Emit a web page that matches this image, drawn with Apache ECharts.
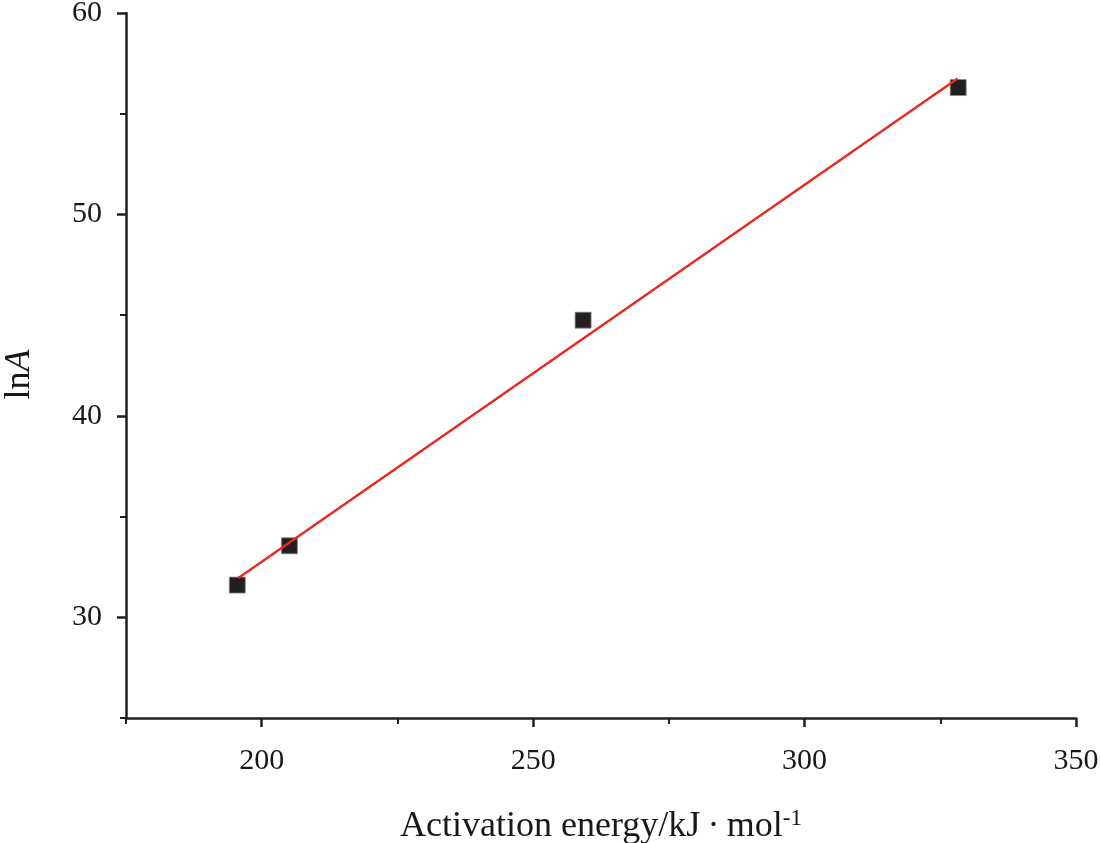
<!DOCTYPE html>
<html>
<head>
<meta charset="utf-8">
<script src="https://cdn.jsdelivr.net/npm/echarts@6/dist/echarts.min.js"></script>
<style>html,body{margin:0;padding:0;background:#fff}#c{width:1100px;height:843px}</style>
</head>
<body>
<div id="c"></div>
<script>
const energy = [195.5, 205.1, 259.2, 328.3];
const lnA = [31.6, 33.55, 44.75, 56.3];
const fitX = [195.7, 328.2];
const fitY = [31.95, 56.75];
const xMajor = [200, 250, 300, 350];
const xMinor = [175, 225, 275, 325];
const yMajor = [30, 40, 50, 60];
const yMinor = [25, 35, 45, 55];

const axisColor = '#231f20';
const font = '"Liberation Serif", "DejaVu Serif", serif';
const xRange = { min: 175, max: 350 };
const yRange = { min: 25, max: 60 };

function mainAxis(range, major, extra) {
  return Object.assign({
    type: 'value', min: range.min, max: range.max,
    axisLine: { onZero: false, lineStyle: { color: axisColor, width: 2.5 } },
    axisTick: { show: true, inside: false, length: 9, customValues: major, lineStyle: { color: axisColor, width: 2.5 } },
    axisLabel: { show: true, customValues: major, fontFamily: font, fontSize: 30, color: '#1a1718' },
    splitLine: { show: false }
  }, extra);
}
function minorAxis(range, minor) {
  return {
    type: 'value', min: range.min, max: range.max,
    axisLine: { show: false, onZero: false },
    axisTick: { show: true, inside: false, length: 6, customValues: minor, lineStyle: { color: axisColor, width: 2 } },
    axisLabel: { show: false },
    splitLine: { show: false }
  };
}

const chart = echarts.init(document.getElementById('c'));
const xMain = mainAxis(xRange, xMajor, {
  name: '{a|Activation energy/kJ\u2009\u00b7\u2009mol}{s|-1}',
  nameLocation: 'middle', nameGap: 89,
  nameTextStyle: { rich: {
    a: { fontFamily: font, fontSize: 36, color: '#1a1718' },
    s: { fontFamily: font, fontSize: 23, color: '#1a1718', verticalAlign: 'top', padding: [0, 0, 16, 0] }
  } }
});
xMain.axisLabel.margin = 28;
const yMain = mainAxis(yRange, yMajor, {
  name: '{a|ln}{b|A}', nameLocation: 'middle', nameGap: 88,
  nameTextStyle: { padding: [0, 18, 0, 0], rich: {
    a: { fontFamily: font, fontSize: 36, color: '#1a1718' },
    b: { fontFamily: font, fontSize: 36, color: '#1a1718', fontStyle: 'italic' }
  } }
});
yMain.axisLabel.margin = 24;

chart.setOption({
  animation: false,
  backgroundColor: '#fff',
  grid: { left: 126, right: 24, top: 13, bottom: 125, containLabel: false, outerBoundsMode: 'none' },
  xAxis: [xMain, Object.assign(minorAxis(xRange, xMinor), { position: 'bottom' })],
  yAxis: [yMain, Object.assign(minorAxis(yRange, yMinor), { position: 'left' })],
  series: [
    {
      type: 'scatter', symbol: 'rect', symbolSize: 16,
      itemStyle: { color: axisColor, opacity: 1, borderColor: '#8a8a8a', borderWidth: 0.8 },
      data: energy.map((x, i) => [x, lnA[i]]), z: 2
    },
    {
      type: 'line', showSymbol: false, symbol: 'none',
      lineStyle: { color: '#e8281e', width: 2.4 },
      data: fitX.map((x, i) => [x, fitY[i]]), z: 3
    }
  ]
});
</script>
</body>
</html>
